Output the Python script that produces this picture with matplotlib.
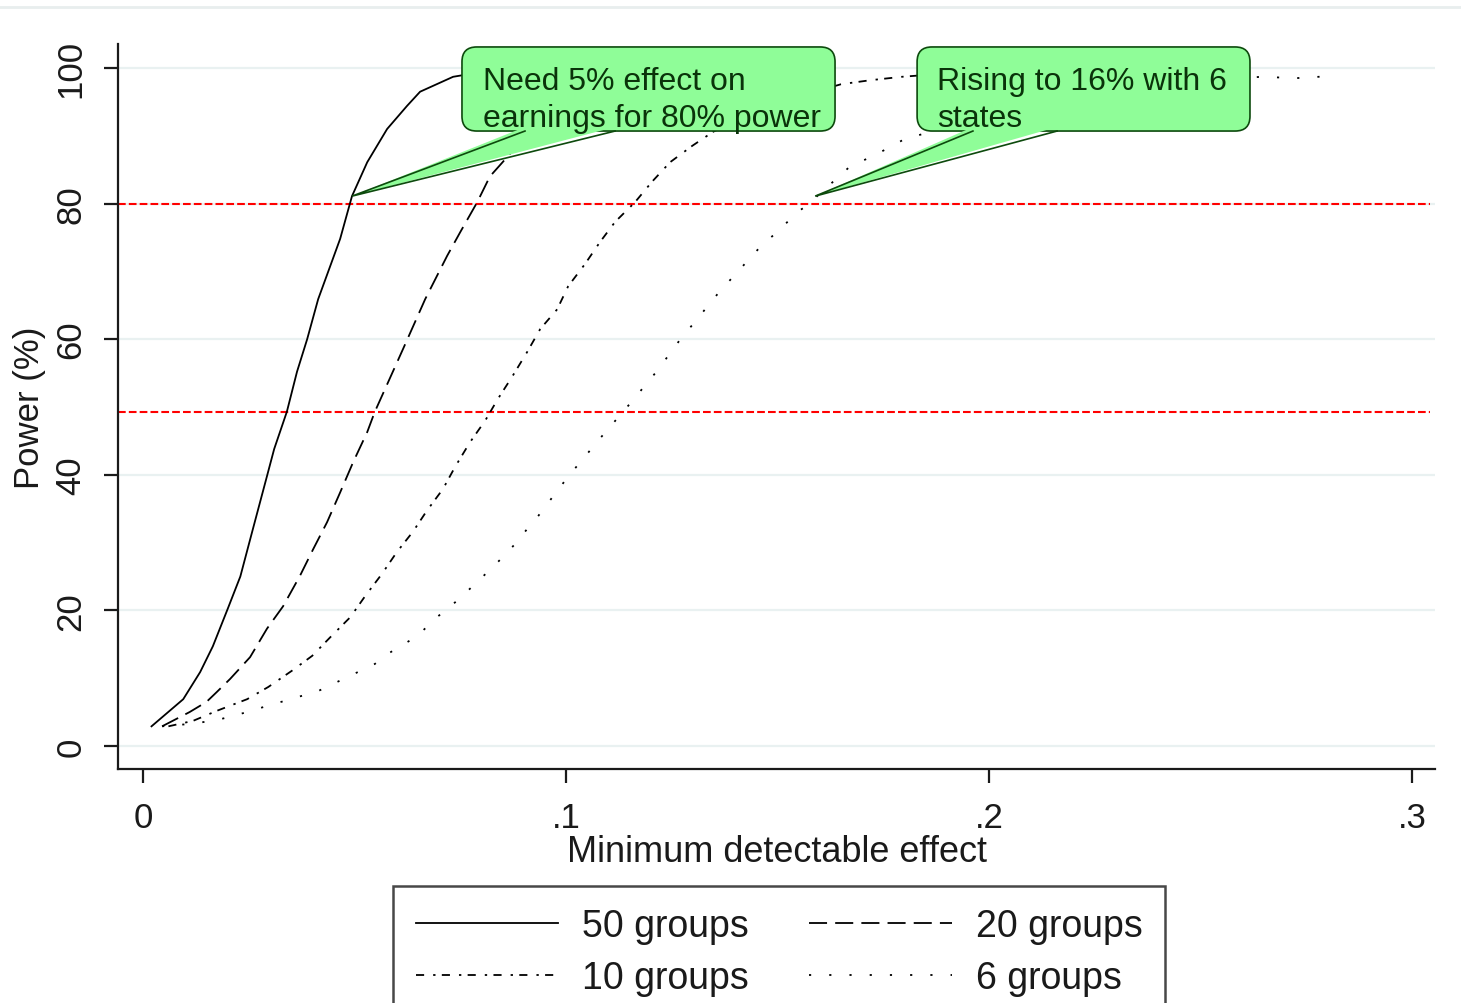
import matplotlib
matplotlib.use('Agg')
import matplotlib.pyplot as plt
from matplotlib.patches import FancyBboxPatch, Polygon
from matplotlib.lines import Line2D

plt.rcParams['font.family'] = ['Liberation Sans', 'DejaVu Sans']

# datos (efecto minimo detectable vs potencia %)
x_50 = [0.002, 0.0095, 0.0135, 0.0165, 0.020, 0.023, 0.0258, 0.0293, 0.031, 0.034,
        0.0364, 0.0388, 0.0414, 0.0466, 0.0494, 0.053, 0.0577, 0.0624, 0.0655, 0.0733, 0.080]
y_50 = [2.9, 6.9, 10.9, 14.7, 20.2, 25.0, 31.6, 39.8, 43.8, 49.3,
        55.2, 60.0, 65.9, 74.8, 81.1, 86.1, 91.0, 94.4, 96.5, 98.7, 99.4]

x_20 = [0.0045, 0.011, 0.015, 0.0175, 0.0206, 0.0253, 0.0293, 0.0331, 0.0371, 0.0402,
        0.0435, 0.0466, 0.0497, 0.053, 0.0548, 0.0615, 0.0667, 0.0719, 0.075, 0.079,
        0.082, 0.085, 0.0885, 0.095, 0.105, 0.12, 0.14]
y_20 = [2.9, 5.0, 6.5, 8.0, 9.9, 13.1, 17.3, 20.6, 25.1, 29.0,
        33.0, 37.4, 41.9, 46.3, 49.3, 58.6, 65.9, 72.3, 75.8, 80.2,
        84.0, 86.1, 88.6, 92.5, 95.8, 98.3, 99.5]

x_10 = [0.006, 0.0118, 0.0175, 0.0246, 0.0296, 0.0352, 0.040, 0.0442, 0.049, 0.0525,
        0.0565, 0.060, 0.0638, 0.0671, 0.0709, 0.0738, 0.0773, 0.0809, 0.0839, 0.0872,
        0.0908, 0.0939, 0.0979, 0.1005, 0.1045, 0.108, 0.1116, 0.1163, 0.1203, 0.1246,
        0.1298, 0.1348, 0.145, 0.155, 0.165, 0.172, 0.1794, 0.19]
y_10 = [2.9, 3.7, 5.2, 6.9, 8.7, 11.1, 13.3, 16.0, 19.0, 22.1,
        25.4, 28.6, 31.6, 34.7, 37.9, 41.2, 44.8, 48.0, 51.2, 54.4,
        58.1, 61.5, 64.4, 67.8, 71.1, 74.3, 77.3, 80.2, 83.2, 86.1,
        88.5, 90.6, 93.5, 95.8, 97.6, 98.2, 98.7, 99.2]

x_6 = [0.0045, 0.012, 0.018, 0.0258, 0.0277, 0.0414, 0.0548, 0.0579, 0.0648, 0.0693,
       0.0738, 0.078, 0.0827, 0.0856, 0.0884, 0.0908, 0.0934, 0.0957, 0.0986, 0.101,
       0.1085, 0.115, 0.1215, 0.1274, 0.130, 0.1364, 0.1392, 0.1459, 0.1504, 0.1548,
       0.1567, 0.167, 0.1735, 0.180, 0.20, 0.22, 0.24, 0.2645, 0.2726, 0.2806]
y_6 = [2.9, 3.3, 3.9, 5.2, 5.6, 8.1, 12.1, 13.6, 16.2, 18.9,
       21.2, 23.6, 26.4, 28.2, 30.1, 32.0, 33.9, 35.8, 38.2, 40.1,
       45.7, 50.4, 55.3, 60.3, 62.2, 67.1, 69.0, 73.6, 76.1, 78.8,
       79.6, 85.4, 87.3, 89.5, 93.0, 96.0, 97.8, 98.7, 98.5, 98.8]

etiquetas = ['50 groups', '20 groups', '10 groups', '6 groups']
lineas_ref = [80, 49.3]
x_ticks = [0, 0.1, 0.2, 0.3]
x_ticklabels = ['0', '.1', '.2', '.3']
y_ticks = [0, 20, 40, 60, 80, 100]

fig = plt.figure(figsize=(14.61, 10.04), dpi=100)
ax = fig.add_axes([0.0808, 0.2331, 0.9014, 0.7221])

# lineas de referencia y cuadricula
for yy in y_ticks:
    ax.axhline(yy, color='#e9f1f1', lw=1.6, zorder=0, xmax=1.0)
for yy in lineas_ref:
    ax.axhline(yy, color='#ff0000', lw=1.5, dashes=(3.7, 1.5), xmax=0.996, zorder=1)

kw = dict(color='black', lw=1.3, zorder=3)
l50, = ax.plot(x_50, y_50, linestyle='-', label=etiquetas[0], **kw)
l20, = ax.plot(x_20, y_20, dashes=(10, 4.5), label=etiquetas[1], **kw)
l10, = ax.plot(x_10, y_10, dashes=(4.5, 5, 1.3, 3.5), label=etiquetas[2], **kw)
l6, = ax.plot(x_6, y_6, dashes=(1.2, 10), label=etiquetas[3], **kw)

ax.set_xlim(-0.00591, 0.30544)
ax.set_ylim(-3.39, 103.54)
ax.set_xticks(x_ticks)
ax.set_xticklabels(x_ticklabels)
ax.set_yticks(y_ticks)
ax.set_yticklabels([str(v) for v in y_ticks], rotation=90, va='center')
ax.tick_params(axis='both', length=10, width=1.6, labelsize=25, colors='#1a1a1a')
ax.tick_params(axis='y', pad=12)
ax.tick_params(axis='x', pad=13)
for s in ['top', 'right']:
    ax.spines[s].set_visible(False)
for s in ['left', 'bottom']:
    ax.spines[s].set_linewidth(1.6)
    ax.spines[s].set_color('#1a1a1a')

ax.set_xlabel('Minimum detectable effect', fontsize=26, color='#1a1a1a', labelpad=0)
ax.set_ylabel('Power (%)', fontsize=25, color='#1a1a1a', labelpad=6)

# globos de texto verdes
verde = '#8ffd98'
borde = '#0d4a0d'
aspecto = (1 / 6.78) / (1 / 4230)


def globo(x0, x1, y0, y1, base0, base1, punta, texto, tx):
    caja = FancyBboxPatch((x0, y0), x1 - x0, y1 - y0,
                          boxstyle='round,pad=0,rounding_size=0.0035',
                          mutation_aspect=aspecto, facecolor=verde,
                          edgecolor=borde, lw=1.2, zorder=5, clip_on=False)
    ax.add_patch(caja)
    cuna = Polygon([(base0, y0 + 0.6), (punta[0], punta[1]), (base1, y0 + 0.6)],
                   closed=True, facecolor=verde, edgecolor='none', zorder=6, clip_on=False)
    ax.add_patch(cuna)
    ax.plot([base0, punta[0], base1], [y0, punta[1], y0], color=borde, lw=1.2,
            zorder=7, clip_on=False, solid_joinstyle='miter')
    ax.text(tx, (y0 + y1) / 2 - 1.6, texto, fontsize=23, color='#0a330a',
            va='center', ha='left', linespacing=1.3, zorder=8)


globo(0.0754, 0.1636, 90.7, 103.1, 0.0903, 0.1116, (0.0494, 81.1),
      'Need 5% effect on\nearnings for 80% power', 0.0804)
globo(0.183, 0.2617, 90.7, 103.1, 0.1962, 0.2161, (0.1589, 81.1),
      'Rising to 16% with 6\nstates', 0.1877)

# linea tenue superior
fig.add_artist(Line2D([0, 1], [0.992, 0.992], transform=fig.transFigure,
                      color='#e8eeee', lw=2))

# orden por filas como en el original
leg = fig.legend([l50, l10, l20, l6],
                 [etiquetas[0], etiquetas[2], etiquetas[1], etiquetas[3]],
                 loc='upper left', bbox_to_anchor=(393 / 1461, 1 - 887 / 1004),
                 ncol=2, fontsize=27, frameon=True, fancybox=False,
                 handlelength=3.8, handletextpad=0.65, columnspacing=1.6,
                 borderpad=0.6, labelspacing=0.42, borderaxespad=0)
leg.get_frame().set_edgecolor('#1a1a1a')
leg.get_frame().set_linewidth(1.8)
for t in leg.get_texts():
    t.set_color('#1a1a1a')

fig.savefig('out.png', dpi=100)
